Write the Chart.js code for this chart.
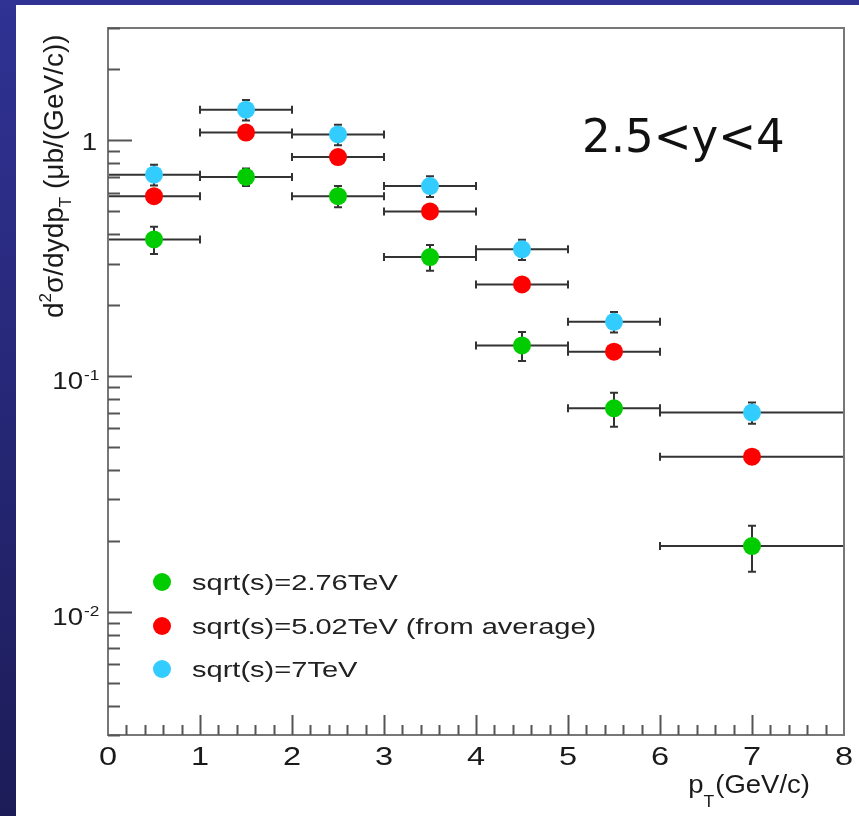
<!DOCTYPE html>
<html>
<head>
<meta charset="utf-8">
<script src="https://cdn.jsdelivr.net/npm/chart.js@4/dist/chart.umd.min.js"></script>
<style>
  html, body { margin: 0; padding: 0; background: #262878; }
  #wrap { width: 859px; height: 816px; }
</style>
</head>
<body>
<div id="wrap"><canvas id="c" width="859" height="816"></canvas></div>
<script>
// pT bins (GeV/c)
const ptCenters = [0.5, 1.5, 2.5, 3.5, 4.5, 5.5, 7];
const binLow    = [0, 1, 2, 3, 4, 5, 6];
const binHigh   = [1, 2, 3, 4, 5, 6, 8];

// d2sigma/dydpT (ub/(GeV/c)), 2.5<y<4
const sigma276 = [0.38, 0.70, 0.58, 0.32, 0.135, 0.073, 0.019];
const err276   = [0.05, 0.06, 0.06, 0.04, 0.019, 0.012, 0.0042];
const sigma502 = [0.58, 1.08, 0.85, 0.50, 0.245, 0.127, 0.0455];
const err502   = [0.03, 0.05, 0.04, 0.025, 0.012, 0.006, 0.003];
const sigma7   = [0.716, 1.35, 1.06, 0.64, 0.345, 0.170, 0.0700];
const err7     = [0.072, 0.135, 0.105, 0.064, 0.034, 0.017, 0.0072];

const seriesNames = ['sqrt(s)=2.76TeV', 'sqrt(s)=5.02TeV (from average)', 'sqrt(s)=7TeV'];
const seriesColors = ['#00cc00', '#ff0000', '#33ccff'];

// axis ticks
const xTickValues = [0, 1, 2, 3, 4, 5, 6, 7, 8];
const xTickLabels = ['0', '1', '2', '3', '4', '5', '6', '7', '8'];
const yTickValues = [0.01, 0.1, 1];
const yTickBase   = ['10', '10', '1'];
const yTickExp    = ['-2', '-1', ''];

const X_MIN = 0, X_MAX = 8, Y_MIN = 0.003, Y_MAX = 3;

function toPoints(vals) { return vals.map((v, i) => ({ x: ptCenters[i], y: v })); }

const seriesValues = [sigma276, sigma502, sigma7];
const seriesErrors = [err276, err502, err7];

const datasets = seriesValues.map((vals, k) => ({
  label: seriesNames[k],
  data: toPoints(vals),
  errors: seriesErrors[k],
  backgroundColor: seriesColors[k],
  borderColor: seriesColors[k],
  pointRadius: 9,
  pointHoverRadius: 9,
  pointBorderWidth: 0,
  showLine: false
}));

const SANS = '"Liberation Sans", Arial, Helvetica, sans-serif';

function textAt(ctx, str, x, y, font, align, sx, color) {
  ctx.save();
  ctx.font = font;
  ctx.fillStyle = color || '#1a1a1a';
  ctx.textBaseline = 'alphabetic';
  const w = ctx.measureText(str).width * sx;
  let x0 = x;
  if (align === 'center') x0 = x - w / 2;
  else if (align === 'right') x0 = x - w;
  ctx.translate(x0, y);
  ctx.scale(sx, 1);
  ctx.textAlign = 'left';
  ctx.fillText(str, 0, 0);
  ctx.restore();
  return w;
}

const rootStyle = {
  id: 'rootStyle',
  beforeDraw(chart) {
    const ctx = chart.ctx;
    ctx.save();
    const g = ctx.createLinearGradient(0, 0, 0, chart.height);
    g.addColorStop(0, '#303294');
    g.addColorStop(1, '#1c1c58');
    ctx.fillStyle = g;
    ctx.fillRect(0, 0, chart.width, chart.height);
    ctx.fillStyle = '#ffffff';
    ctx.fillRect(16, 5, chart.width - 16, chart.height - 5);
    ctx.restore();
  },
  beforeDatasetsDraw(chart) {
    const ctx = chart.ctx;
    const xs = chart.scales.x, ys = chart.scales.y;
    ctx.save();
    ctx.strokeStyle = '#333333';
    ctx.lineWidth = 2;
    chart.data.datasets.forEach(ds => {
      ds.data.forEach((p, j) => {
        const py = ys.getPixelForValue(p.y);
        const pl = xs.getPixelForValue(binLow[j]);
        const ph = xs.getPixelForValue(binHigh[j]);
        ctx.beginPath();
        ctx.moveTo(pl, py); ctx.lineTo(ph, py);
        ctx.moveTo(pl, py - 4); ctx.lineTo(pl, py + 4);
        ctx.moveTo(ph, py - 4); ctx.lineTo(ph, py + 4);
        const px = xs.getPixelForValue(p.x);
        const e = ds.errors[j];
        const yt = ys.getPixelForValue(p.y + e);
        const yb = ys.getPixelForValue(p.y - e);
        ctx.moveTo(px, yt); ctx.lineTo(px, yb);
        ctx.moveTo(px - 4, yt); ctx.lineTo(px + 4, yt);
        ctx.moveTo(px - 4, yb); ctx.lineTo(px + 4, yb);
        ctx.stroke();
      });
    });
    ctx.restore();
  },
  afterDraw(chart) {
    const ctx = chart.ctx;
    const xs = chart.scales.x, ys = chart.scales.y;
    const a = chart.chartArea;
    ctx.save();
    // frame
    ctx.strokeStyle = '#777777';
    ctx.lineWidth = 2;
    ctx.strokeRect(a.left, a.top, a.right - a.left, a.bottom - a.top);

    // y ticks (log, major at decades)
    ctx.strokeStyle = '#555555';
    ctx.lineWidth = 2;
    ctx.beginPath();
    for (let d = -3; d <= 0; d++) {
      for (let m = 1; m <= 9; m++) {
        const v = m * Math.pow(10, d);
        if (v < Y_MIN * 0.999 || v > Y_MAX * 1.001) continue;
        const py = Math.round(ys.getPixelForValue(v)) + 0.5;
        const len = (m === 1) ? 24 : 12;
        ctx.moveTo(a.left, py); ctx.lineTo(a.left + len, py);
      }
    }
    // x ticks (major every 1, minor every 0.2)
    for (let i = 1; i < 40; i++) {
      const v = i * 0.2;
      const px = Math.round(xs.getPixelForValue(v)) + 0.5;
      const len = (i % 5 === 0) ? 20 : 10;
      ctx.moveTo(px, a.bottom); ctx.lineTo(px, a.bottom - len);
    }
    ctx.stroke();

    // x tick labels
    xTickValues.forEach((v, i) => {
      textAt(ctx, xTickLabels[i], xs.getPixelForValue(v), a.bottom + 30, '25px ' + SANS, 'center', 1.3);
    });
    // y tick labels
    yTickValues.forEach((v, i) => {
      const py = ys.getPixelForValue(v);
      if (yTickExp[i]) {
        textAt(ctx, yTickBase[i], 83, py + 13, '24px ' + SANS, 'right', 1.15);
        textAt(ctx, yTickExp[i], 84, py + 4, '15px ' + SANS, 'left', 1.15);
      } else {
        textAt(ctx, yTickBase[i], 97, py + 10, '24px ' + SANS, 'right', 1.15);
      }
    });

    // x title: pT(GeV/c)
    {
      const right = 810, base = 793;
      const f = '25px ' + SANS;
      ctx.font = f;
      const w2 = ctx.measureText('(GeV/c)').width * 1.1;
      ctx.font = '16px ' + SANS;
      const wt = ctx.measureText('T').width * 1.1;
      ctx.font = f;
      const wp = ctx.measureText('p').width * 1.1;
      const x2 = right - w2;
      textAt(ctx, '(GeV/c)', x2, base, f, 'left', 1.1);
      textAt(ctx, 'T', x2 - wt - 1, base + 14, '16px ' + SANS, 'left', 1.1);
      textAt(ctx, 'p', x2 - wt - 1 - wp, base, f, 'left', 1.1);
    }

    // y title, rotated
    {
      ctx.save();
      ctx.translate(63, 318);
      ctx.rotate(-Math.PI / 2);
      ctx.fillStyle = '#1a1a1a';
      ctx.textBaseline = 'alphabetic';
      ctx.textAlign = 'left';
      let x = 0;
      const big = '28px ' + SANS, small = '17px ' + SANS;
      const piece = (s, f, dy) => { ctx.font = f; ctx.fillText(s, x, dy); x += ctx.measureText(s).width; };
      piece('d', big, 0);
      piece('2', small, -12);
      piece('\u03c3/dydp', big, 0);
      piece('T', small, 8);
      piece(' (\u03bcb/(GeV/c))', big, 0);
      ctx.restore();
    }

    // legend
    const legY = [582, 626, 669];
    chart.data.datasets.forEach((ds, k) => {
      ctx.beginPath();
      ctx.fillStyle = ds.backgroundColor;
      ctx.arc(162, legY[k], 9, 0, Math.PI * 2);
      ctx.fill();
      textAt(ctx, ds.label, 192, legY[k] + 8, '22px ' + SANS, 'left', 1.32, '#222222');
    });

    // rapidity range
    textAt(ctx, '2.5<y<4', 582, 152, '46px "DejaVu Sans", sans-serif', 'left', 0.98, '#111111');
    ctx.restore();
  }
};

new Chart(document.getElementById('c'), {
  type: 'scatter',
  data: { datasets },
  options: {
    responsive: false,
    animation: false,
    events: [],
    layout: { padding: { left: 108, right: 15, top: 28, bottom: 81 } },
    plugins: { legend: { display: false }, tooltip: { enabled: false } },
    scales: {
      x: { type: 'linear', min: X_MIN, max: X_MAX, display: false },
      y: { type: 'logarithmic', min: Y_MIN, max: Y_MAX, display: false }
    }
  },
  plugins: [rootStyle]
});
</script>
</body>
</html>
